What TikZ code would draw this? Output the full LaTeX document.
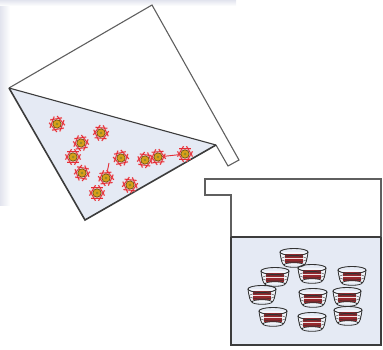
\documentclass[tikz,border=0pt]{standalone}
\usetikzlibrary{calc}
\begin{document}
\definecolor{liquid}{RGB}{229,234,244}
\definecolor{wallgray}{RGB}{95,95,95}
\definecolor{wetgray}{RGB}{60,60,60}
\definecolor{cellred}{RGB}{228,45,55}
\definecolor{cellglow}{RGB}{245,150,150}
\definecolor{cellgold}{RGB}{215,160,25}
\definecolor{cellring}{RGB}{110,80,20}
\definecolor{cellcore}{RGB}{150,140,40}
\definecolor{basketred}{RGB}{150,40,45}
\definecolor{wire}{RGB}{50,50,50}
\definecolor{bgtint}{RGB}{226,228,238}
\begin{tikzpicture}[x=1pt,y=-1pt,
  wall/.style={draw=wallgray, line width=1.1pt, line join=miter},
  wetwall/.style={draw=wetgray, line width=1.6pt, line join=miter},
  surface/.style={draw=wetgray, line width=1.1pt},
  filament/.style={draw=cellred, line width=0.9pt},
  cell/.pic={
    \foreach \a in {0,60,...,300} {
      \draw[cellglow, line width=1.8pt, opacity=.6]
        (\a:6) ++({\a-60}:3) -- ++({\a+120}:12);
    }
    \foreach \a in {0,60,...,300} {
      \draw[cellred, line width=0.8pt]
        (\a:6) ++({\a-60}:3) -- ++({\a+120}:12);
    }
    \filldraw[fill=cellgold, draw=cellring, line width=0.7pt] (0,0) circle (4.2pt);
    \fill[cellcore] (0,0) circle (1.5pt);
  },
  basket/.pic={
    \fill[white, opacity=.5] (-14,-6) .. controls (-13,2) and (-12,6) .. (-10,7)
      -- (10,7) .. controls (12,6) and (13,2) .. (14,-6) -- cycle;
    \fill[basketred] (-9,-4) rectangle (9,5);
    \fill[white, opacity=.85] (-9,0) rectangle (9,1.4);
    \draw[wire, line width=0.9pt] (0,-6) ellipse [x radius=14, y radius=3.5];
    \draw[wire, line width=0.8pt] (-14,-6) .. controls (-13,2) and (-12,6) .. (-10,7)
      (14,-6) .. controls (13,2) and (12,6) .. (10,7);
    \draw[wire, line width=0.5pt, opacity=.8] (0,1) ellipse [x radius=12.8, y radius=3];
    \draw[wire, line width=0.8pt] (0,7) ellipse [x radius=10, y radius=2.3];
  }
]
\useasboundingbox (0,0) rectangle (383,350);

% faint tinted margins
\shade[left color=bgtint, right color=white] (0,0) rectangle (10,205);
\shade[top color=bgtint, bottom color=white] (0,0) rectangle (236,6);

% tilted vessel pouring
\coordinate (tl) at (9,88);
\coordinate (tt) at (152,5);
\coordinate (ts1) at (239,160);
\coordinate (ts2) at (228,166);
\coordinate (tw) at (216,145);
\coordinate (tb) at (85,220);
\fill[liquid] (tl) -- (tw) -- (tb) -- cycle;
\draw[wall] (tl) -- (tt) -- (ts1) -- (ts2) -- (tw);
\draw[wetwall] (tw) -- (tb) -- (tl);
\draw[surface] (tl) -- (tw);

% cells in suspension
\foreach \n/\x/\y in {1/57/124, 2/101/133, 3/81/143, 4/73/157,
    5/121/158, 6/145/160, 7/158/157, 8/185/154, 9/82/173,
    10/106/178, 11/97/193, 12/130/185} {
  \coordinate (c\n) at (\x,\y);
}
\coordinate (f10) at (109,163);
\draw[filament] (c7) -- (c8);
\draw[filament] (c10) -- (f10);
\foreach \n/\r in {1/10, 2/-5, 3/8, 4/0, 5/12, 6/-8, 7/5, 8/0, 9/-10, 10/6, 11/0, 12/-6} {
  \pic[rotate=\r] at (c\n) {cell};
}

% receiving vessel
\coordinate (bs1) at (205,179);
\coordinate (bs2) at (205,195);
\coordinate (bw) at (231,195);
\coordinate (br) at (381,179);
\coordinate (bl) at (231,237);
\coordinate (blr) at (381,237);
\coordinate (bbl) at (231,345);
\coordinate (bbr) at (381,345);
\fill[liquid] (bl) rectangle (bbr);
\draw[wall] (bl) -- (bw) -- (bs2) -- (bs1) -- (br) -- (blr);
\draw[wetwall] (blr) -- (bbr) -- (bbl) -- (bl);
\draw[surface] (bl) -- (blr);

% culture inserts
\foreach \x/\y in {294/258, 275/277, 312/274, 352/276, 262/295,
    313/298, 347/297, 273/317, 312/322, 348/316} {
  \pic at (\x,\y) {basket};
}
\end{tikzpicture}
\end{document}
